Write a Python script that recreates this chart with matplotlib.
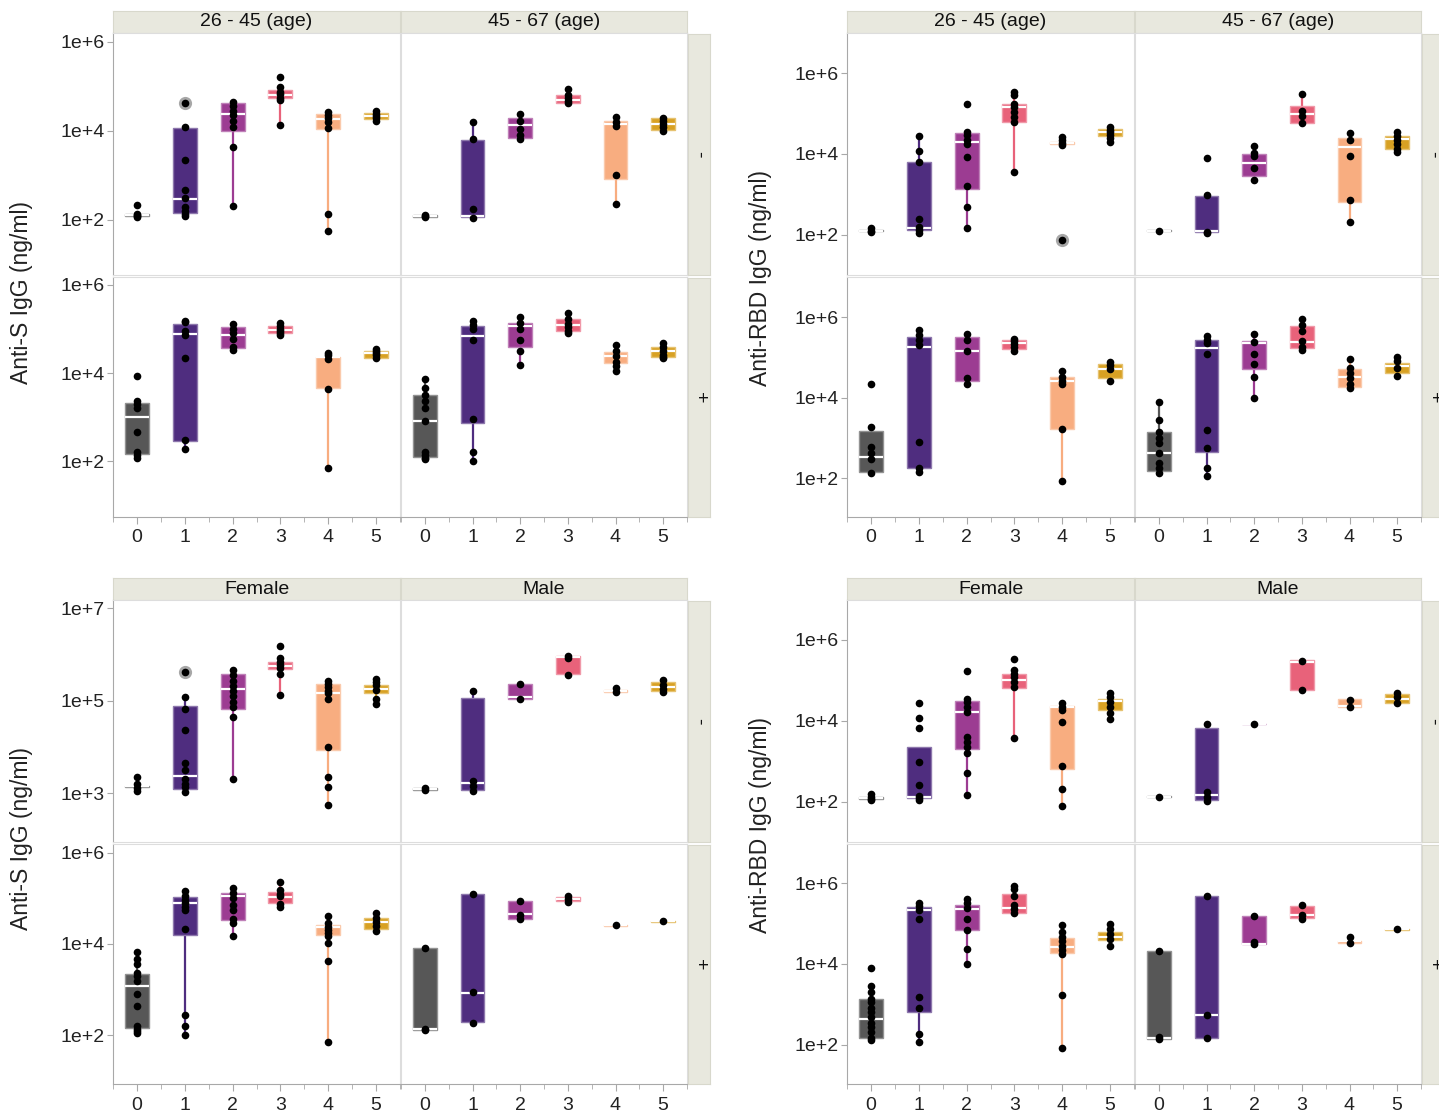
import numpy as np
import matplotlib
matplotlib.use("Agg")
import matplotlib.pyplot as plt

plt.rcParams['font.family'] = ['Liberation Sans', 'DejaVu Sans']

W, H = 1439, 1113
groups = [0, 1, 2, 3, 4, 5]
group_colors = ['#575757', '#4F2D7F', '#9C3C92', '#E8627A', '#F8AD80', '#D8A123']

# all values are log10(ng/ml); box = [low whisker, q1, median, q3, high whisker]

# ---- Anti-S by age ----
s_age_young_neg_pts = [[2.34, 2.13, 2.10, 2.06, 2.08],
                       [4.62, 4.08, 3.35, 2.66, 2.48, 2.28, 2.20, 2.13, 2.08],
                       [4.64, 4.55, 4.45, 4.35, 4.22, 4.09, 3.63, 2.31],
                       [5.20, 4.98, 4.88, 4.82, 4.75, 4.70, 4.13],
                       [4.43, 4.36, 4.30, 4.20, 4.07, 2.13, 1.74],
                       [4.44, 4.38, 4.33, 4.28, 4.23]]
s_age_young_neg_box = [[2.06, 2.08, 2.11, 2.14, 2.14], [2.08, 2.15, 2.46, 4.07, 4.08],
                       [2.31, 4.00, 4.39, 4.62, 4.64], [4.13, 4.73, 4.81, 4.92, 4.98],
                       [1.74, 4.05, 4.26, 4.38, 4.43], [4.23, 4.26, 4.33, 4.40, 4.44]]
s_age_young_neg_out = [(1, 4.62)]

s_age_old_neg_pts = [[2.10, 2.06, 2.08],
                     [4.21, 3.81, 2.24, 2.04],
                     [4.38, 4.22, 4.05, 3.90, 3.82],
                     [4.94, 4.80, 4.74, 4.68, 4.62],
                     [4.31, 4.20, 4.10, 3.01, 2.35],
                     [4.30, 4.22, 4.15, 4.08, 4.00]]
s_age_old_neg_box = [[2.06, 2.07, 2.08, 2.10, 2.10], [2.04, 2.06, 2.08, 3.80, 4.21],
                     [3.82, 3.84, 4.13, 4.28, 4.38], [4.60, 4.62, 4.70, 4.81, 4.94],
                     [2.35, 2.92, 4.15, 4.22, 4.31], [4.00, 4.02, 4.16, 4.28, 4.30]]
s_age_old_neg_out = []

s_age_young_pos_pts = [[3.93, 3.36, 3.30, 3.21, 2.65, 2.20, 2.13, 2.06],
                       [5.19, 5.15, 4.95, 4.87, 4.33, 2.47, 2.28],
                       [5.11, 5.00, 4.90, 4.78, 4.58, 4.52],
                       [5.14, 5.07, 5.00, 4.95, 4.90, 4.86],
                       [4.45, 4.40, 4.32, 3.64, 1.84],
                       [4.54, 4.50, 4.45, 4.40, 4.33]]
s_age_young_pos_box = [[2.06, 2.16, 3.00, 3.33, 3.36], [2.28, 2.45, 4.88, 5.12, 5.19],
                       [4.52, 4.56, 4.86, 5.04, 5.11], [4.86, 4.91, 4.98, 5.07, 5.14],
                       [1.84, 3.65, 4.37, 4.37, 4.45], [4.33, 4.35, 4.45, 4.50, 4.54]]
s_age_young_pos_out = []

s_age_old_pos_pts = [[3.86, 3.67, 3.50, 3.37, 3.21, 2.91, 2.21, 2.13, 2.08, 2.04],
                     [5.17, 5.10, 5.00, 4.76, 2.95, 2.21, 2.00],
                     [5.27, 5.13, 4.99, 4.74, 4.50, 4.19],
                     [5.37, 5.22, 5.12, 5.04, 4.96, 4.90],
                     [4.63, 4.50, 4.38, 4.26, 4.15, 4.04],
                     [4.68, 4.60, 4.50, 4.42, 4.37, 4.33]]
s_age_old_pos_box = [[2.04, 2.10, 2.91, 3.49, 3.86], [2.00, 2.86, 4.83, 5.06, 5.17],
                     [4.19, 4.59, 5.07, 5.13, 5.27], [4.90, 4.95, 5.08, 5.22, 5.37],
                     [4.04, 4.23, 4.38, 4.47, 4.63], [4.33, 4.37, 4.50, 4.60, 4.68]]
s_age_old_pos_out = []

# ---- Anti-RBD by age ----
rbd_age_young_neg_pts = [[2.17, 2.10, 2.07],
                         [4.44, 4.07, 3.80, 2.40, 2.20, 2.12, 2.05],
                         [5.23, 4.55, 4.47, 4.35, 4.25, 3.93, 3.21, 2.69, 2.17],
                         [5.54, 5.46, 5.25, 5.17, 5.04, 4.92, 4.80, 3.56],
                         [4.43, 4.35, 4.28, 4.22, 1.88],
                         [4.67, 4.60, 4.55, 4.48, 4.40, 4.30]]
rbd_age_young_neg_box = [[2.07, 2.08, 2.10, 2.12, 2.17], [2.05, 2.12, 2.16, 3.79, 4.44],
                         [2.17, 3.12, 4.29, 4.51, 4.55], [3.56, 4.80, 5.16, 5.23, 5.54],
                         [4.22, 4.24, 4.28, 4.30, 4.43], [4.30, 4.45, 4.55, 4.63, 4.67]]
rbd_age_young_neg_out = [(4, 1.88)]

rbd_age_old_neg_pts = [[2.10],
                       [3.91, 2.98, 2.07, 2.03],
                       [4.20, 4.03, 3.94, 3.66, 3.35],
                       [5.48, 5.06, 4.94, 4.76],
                       [4.51, 4.34, 3.95, 2.87, 2.31],
                       [4.55, 4.45, 4.35, 4.25, 4.12, 4.05]]
rbd_age_old_neg_box = [[2.10, 2.09, 2.10, 2.11, 2.10], [2.03, 2.06, 2.08, 2.95, 2.98],
                       [3.35, 3.45, 3.78, 4.00, 4.20], [4.76, 4.76, 4.98, 5.19, 5.48],
                       [2.31, 2.80, 4.18, 4.39, 4.51], [4.05, 4.13, 4.36, 4.45, 4.55]]
rbd_age_old_neg_out = []

rbd_age_young_pos_pts = [[4.33, 3.28, 2.78, 2.61, 2.47, 2.12],
                         [5.67, 5.55, 5.43, 5.31, 2.90, 2.26, 2.16],
                         [5.58, 5.44, 5.15, 4.50, 4.35],
                         [5.47, 5.40, 5.33, 5.25, 5.15],
                         [4.67, 4.51, 4.41, 4.33, 3.23, 1.92],
                         [4.89, 4.82, 4.71, 4.42]]
rbd_age_young_pos_box = [[2.12, 2.14, 2.53, 3.17, 3.28], [2.16, 2.26, 5.26, 5.50, 5.67],
                         [4.35, 4.42, 5.17, 5.50, 5.58], [5.15, 5.21, 5.36, 5.44, 5.47],
                         [1.92, 3.21, 4.41, 4.51, 4.67], [4.42, 4.49, 4.71, 4.84, 4.89]]
rbd_age_young_pos_out = []

rbd_age_old_pos_pts = [[3.89, 3.44, 3.15, 3.00, 2.86, 2.61, 2.37, 2.25, 2.12],
                       [5.52, 5.44, 5.36, 5.09, 3.19, 2.74, 2.25, 2.04],
                       [5.58, 5.39, 5.09, 4.84, 4.52, 3.98],
                       [5.95, 5.80, 5.65, 5.40, 5.25, 5.18],
                       [4.97, 4.73, 4.60, 4.48, 4.34, 4.23],
                       [5.01, 4.90, 4.73, 4.53]]
rbd_age_old_pos_box = [[2.12, 2.18, 2.61, 3.15, 3.89], [2.04, 2.65, 5.23, 5.44, 5.52],
                       [3.98, 4.70, 5.35, 5.42, 5.58], [5.18, 5.23, 5.38, 5.79, 5.95],
                       [4.23, 4.27, 4.51, 4.70, 4.97], [4.53, 4.61, 4.78, 4.85, 5.01]]
rbd_age_old_pos_out = []

# ---- Anti-S by sex ----
s_sex_f_neg_pts = [[3.35, 3.20, 3.12, 3.06],
                   [5.63, 5.08, 4.82, 4.36, 3.66, 3.50, 3.32, 3.20, 3.13, 3.04],
                   [5.66, 5.55, 5.44, 5.33, 5.22, 5.11, 4.97, 4.86, 4.65, 3.31],
                   [6.19, 5.92, 5.85, 5.78, 5.70, 5.59, 5.12],
                   [5.44, 5.37, 5.30, 5.22, 5.16, 5.05, 4.01, 3.35, 3.14, 2.75],
                   [5.48, 5.40, 5.34, 5.23, 5.05, 4.94]]
s_sex_f_neg_box = [[3.06, 3.13, 3.15, 3.17, 3.17], [3.04, 3.09, 3.38, 4.89, 5.08],
                   [3.31, 4.82, 5.26, 5.59, 5.66], [5.12, 5.68, 5.76, 5.83, 5.92],
                   [2.75, 3.93, 5.16, 5.37, 5.44], [4.94, 5.16, 5.26, 5.34, 5.48]]
s_sex_f_neg_out = [(1, 5.63)]

s_sex_m_neg_pts = [[3.12, 3.08],
                   [5.21, 3.26, 3.17, 3.06],
                   [5.37, 5.05],
                   [5.98, 5.92, 5.55],
                   [5.27, 5.20],
                   [5.45, 5.35, 5.25, 5.20]]
s_sex_m_neg_box = [[3.07, 3.07, 3.10, 3.12, 3.12], [3.06, 3.07, 3.22, 5.07, 5.21],
                   [5.03, 5.03, 5.08, 5.37, 5.37], [5.55, 5.57, 5.94, 5.98, 5.98],
                   [5.20, 5.19, 5.22, 5.23, 5.27], [5.20, 5.21, 5.30, 5.41, 5.45]]
s_sex_m_neg_out = []

s_sex_f_pos_pts = [[3.83, 3.68, 3.55, 3.37, 3.30, 3.19, 2.91, 2.64, 2.20, 2.14, 2.09, 2.04],
                   [5.16, 5.05, 4.97, 4.90, 4.80, 4.74, 4.32, 2.45, 2.20, 2.00],
                   [5.23, 5.11, 5.01, 4.86, 4.74, 4.54, 4.46, 4.17],
                   [5.36, 5.19, 5.10, 5.04, 4.88, 4.81],
                   [4.61, 4.46, 4.38, 4.31, 4.24, 4.17, 4.03, 3.62, 1.84],
                   [4.67, 4.57, 4.48, 4.40, 4.28]]
s_sex_f_pos_box = [[2.04, 2.15, 3.07, 3.35, 3.83], [2.00, 4.19, 4.89, 5.03, 5.16],
                   [4.17, 4.52, 5.05, 5.11, 5.23], [4.81, 4.89, 5.03, 5.14, 5.36],
                   [1.84, 4.19, 4.37, 4.41, 4.61], [4.28, 4.33, 4.48, 4.56, 4.67]]
s_sex_f_pos_out = []

s_sex_m_pos_pts = [[3.90, 2.14, 2.11],
                   [5.10, 2.94, 2.27],
                   [4.93, 4.64, 4.55],
                   [5.04, 4.98, 4.92],
                   [4.41],
                   [4.50]]
s_sex_m_pos_box = [[2.11, 2.12, 2.13, 3.90, 3.90], [2.27, 2.28, 2.93, 5.09, 5.10],
                   [4.55, 4.55, 4.65, 4.93, 4.93], [4.92, 4.93, 4.98, 5.02, 5.04],
                   [4.41, 4.40, 4.41, 4.42, 4.41], [4.50, 4.49, 4.50, 4.51, 4.50]]
s_sex_m_pos_out = []

# ---- Anti-RBD by sex ----
rbd_sex_f_neg_pts = [[2.19, 2.12, 2.07, 2.04],
                     [4.45, 4.08, 3.82, 2.98, 2.40, 2.15, 2.09, 2.03],
                     [5.23, 4.55, 4.47, 4.35, 4.22, 3.60, 3.48, 3.35, 3.20, 2.70, 2.17],
                     [5.54, 5.25, 5.17, 5.08, 4.96, 4.84, 3.57],
                     [4.43, 4.35, 4.27, 3.96, 2.88, 2.31, 1.88],
                     [4.69, 4.59, 4.47, 4.35, 4.20, 4.05]]
rbd_sex_f_neg_box = [[2.04, 2.07, 2.09, 2.11, 2.19], [2.03, 2.10, 2.12, 3.35, 3.35],
                     [2.17, 3.29, 4.22, 4.48, 4.55], [3.57, 4.82, 5.00, 5.17, 5.25],
                     [1.88, 2.80, 4.33, 4.36, 4.43], [4.05, 4.26, 4.48, 4.55, 4.69]]
rbd_sex_f_neg_out = []

rbd_sex_m_neg_pts = [[2.12],
                     [3.91, 2.23, 2.12, 2.02],
                     [3.92],
                     [5.48, 4.76],
                     [4.51, 4.34],
                     [4.69, 4.58, 4.43]]
rbd_sex_m_neg_box = [[2.12, 2.11, 2.12, 2.13, 2.12], [2.02, 2.04, 2.17, 3.81, 3.91],
                     [3.92, 3.91, 3.92, 3.93, 3.92], [4.76, 4.76, 5.46, 5.50, 5.50],
                     [4.34, 4.33, 4.36, 4.53, 4.53], [4.43, 4.43, 4.55, 4.67, 4.69]]
rbd_sex_m_neg_out = []

rbd_sex_f_pos_pts = [[3.90, 3.46, 3.30, 3.13, 3.05, 2.92, 2.80, 2.68, 2.55, 2.43, 2.31, 2.18, 2.12],
                     [5.52, 5.44, 5.34, 5.11, 3.19, 2.91, 2.26, 2.06],
                     [5.60, 5.52, 5.39, 5.11, 4.85, 4.37, 4.00],
                     [5.93, 5.85, 5.68, 5.47, 5.35, 5.27],
                     [4.96, 4.80, 4.68, 4.56, 4.45, 4.35, 4.25, 3.23, 1.93],
                     [4.99, 4.86, 4.74, 4.62, 4.45]]
rbd_sex_f_pos_box = [[2.12, 2.18, 2.63, 3.13, 3.46], [2.06, 2.80, 5.34, 5.40, 5.52],
                     [4.00, 4.85, 5.37, 5.46, 5.60], [5.27, 5.27, 5.39, 5.73, 5.93],
                     [1.93, 4.28, 4.41, 4.64, 4.96], [4.45, 4.59, 4.67, 4.80, 4.99]]
rbd_sex_f_pos_out = []

rbd_sex_m_pos_pts = [[4.33, 2.20, 2.14],
                     [5.69, 2.74, 2.18],
                     [5.18, 4.55, 4.49],
                     [5.45, 5.21, 5.12],
                     [4.67, 4.53],
                     [4.86]]
rbd_sex_m_pos_box = [[2.14, 2.15, 2.16, 4.31, 4.33], [2.18, 2.18, 2.74, 5.69, 5.69],
                     [4.49, 4.49, 4.50, 5.18, 5.18], [5.12, 5.13, 5.21, 5.44, 5.45],
                     [4.53, 4.53, 4.56, 4.57, 4.67], [4.86, 4.85, 4.86, 4.87, 4.86]]
rbd_sex_m_pos_out = []

age_labels = ['26 - 45 (age)', '45 - 67 (age)']
sex_labels = ['Female', 'Male']
row_labels = ['-', '+']

fig = plt.figure(figsize=(W / 100, H / 100), dpi=100)


def px_axes(x0, y0, x1, y1):
    return fig.add_axes([x0 / W, 1 - y1 / H, (x1 - x0) / W, (y1 - y0) / H])


def lighten(c, amt=0.35):
    rgb = np.array(matplotlib.colors.to_rgb(c))
    return tuple(rgb + (1 - rgb) * amt)


def draw_facet(ax, pts, box, out, ylim, yticks, first_col, last_row):
    ax.set_yscale('log')
    for g in groups:
        lo, q1, med, q3, hi = box[g]
        c = group_colors[g]
        ax.vlines(g, 10 ** lo, 10 ** q1, color=c, lw=1.6, zorder=2)
        ax.vlines(g, 10 ** q3, 10 ** hi, color=c, lw=1.6, zorder=2)
        ax.bar(g, 10 ** q3 - 10 ** q1, bottom=10 ** q1, width=0.5, color=c,
               edgecolor=lighten(c), lw=1.0, zorder=3)
        ax.hlines(10 ** med, g - 0.25, g + 0.25, color='white', lw=1.6, zorder=4)
    for g, v in out:
        ax.plot(g, 10 ** v, 'o', color='#8A8A8A', ms=9.5, alpha=0.75, mec='none', zorder=5)
    for g in groups:
        ax.plot([g] * len(pts[g]), 10 ** np.array(pts[g]), 'o', color='black',
                ms=5.5, mec='none', zorder=6)
    ax.set_xlim(-0.5, 5.5)
    ax.set_ylim(10 ** ylim[0], 10 ** ylim[1])
    ax.minorticks_off()
    for s in ax.spines.values():
        s.set_color('#DDDDDD')
        s.set_linewidth(0.8)
    if first_col:
        ax.spines['left'].set_color('#A8A8A8')
        ax.set_yticks([10 ** t for t in yticks])
        ax.set_yticklabels(['1e+%d' % t for t in yticks])
        ax.tick_params(axis='y', length=4, color='#A8A8A8', labelsize=14,
                       labelcolor='#222222', pad=2)
    else:
        ax.set_yticks([])
    if last_row:
        ax.spines['bottom'].set_color('#A8A8A8')
        ax.set_xticks(groups)
        ax.set_xticks([-0.5, 0.5, 1.5, 2.5, 3.5, 4.5, 5.5], minor=True)
        ax.tick_params(axis='x', which='major', length=5, color='#A8A8A8',
                       labelsize=14, labelcolor='#222222', pad=4)
        ax.tick_params(axis='x', which='minor', length=3.5, color='#A8A8A8')
    else:
        ax.set_xticks([])


def strip(x0, y0, x1, y1, text, rot=0):
    ax = px_axes(x0, y0, x1, y1)
    ax.set_facecolor('#E8E8DE')
    for s in ax.spines.values():
        s.set_color('#D8D8CC')
    ax.set_xticks([])
    ax.set_yticks([])
    ax.text(0.5, 0.5, text, ha='center', va='center', fontsize=14,
            color='#111111', rotation=rot, transform=ax.transAxes)


def draw_panel(left, top, col_labels, facets, ylims, yticks, ylabel, lab_xy):
    cols = [(left, left + 287), (left + 288, left + 574)]
    rows = [(top, top + 242), (top + 244, top + 484)]
    for ci, (cx0, cx1) in enumerate(cols):
        strip(cx0, top - 22, cx1, top, col_labels[ci])
    for ri, (ry0, ry1) in enumerate(rows):
        strip(left + 575, ry0 + 1, left + 597, ry1, row_labels[ri], rot=270)
        for ci, (cx0, cx1) in enumerate(cols):
            pts, box, out = facets[ri][ci]
            ax = px_axes(cx0, ry0, cx1, ry1)
            draw_facet(ax, pts, box, out, ylims[ri], yticks[ri], ci == 0, ri == 1)
    fig.text(lab_xy[0] / W, 1 - lab_xy[1] / H, ylabel, rotation=90, ha='center',
             va='center', fontsize=16.5, color='#222222')


draw_panel(113, 33, age_labels,
           [[(s_age_young_neg_pts, s_age_young_neg_box, s_age_young_neg_out),
             (s_age_old_neg_pts, s_age_old_neg_box, s_age_old_neg_out)],
            [(s_age_young_pos_pts, s_age_young_pos_box, s_age_young_pos_out),
             (s_age_old_pos_pts, s_age_old_pos_box, s_age_old_pos_out)]],
           [(0.76, 6.2), (0.73, 6.18)], [[2, 4, 6], [2, 4, 6]],
           'Anti-S IgG (ng/ml)', (22, 292))

draw_panel(847, 33, age_labels,
           [[(rbd_age_young_neg_pts, rbd_age_young_neg_box, rbd_age_young_neg_out),
             (rbd_age_old_neg_pts, rbd_age_old_neg_box, rbd_age_old_neg_out)],
            [(rbd_age_young_pos_pts, rbd_age_young_pos_box, rbd_age_young_pos_out),
             (rbd_age_old_pos_pts, rbd_age_old_pos_box, rbd_age_old_pos_out)]],
           [(1.0, 7.0), (1.03, 7.0)], [[2, 4, 6], [2, 4, 6]],
           'Anti-RBD IgG (ng/ml)', (760, 278))

draw_panel(113, 600, sex_labels,
           [[(s_sex_f_neg_pts, s_sex_f_neg_box, s_sex_f_neg_out),
             (s_sex_m_neg_pts, s_sex_m_neg_box, s_sex_m_neg_out)],
            [(s_sex_f_pos_pts, s_sex_f_pos_box, s_sex_f_pos_out),
             (s_sex_m_pos_pts, s_sex_m_pos_box, s_sex_m_pos_out)]],
           [(1.95, 7.18), (0.93, 6.19)], [[3, 5, 7], [2, 4, 6]],
           'Anti-S IgG (ng/ml)', (22, 839))

draw_panel(847, 600, sex_labels,
           [[(rbd_sex_f_neg_pts, rbd_sex_f_neg_box, rbd_sex_f_neg_out),
             (rbd_sex_m_neg_pts, rbd_sex_m_neg_box, rbd_sex_m_neg_out)],
            [(rbd_sex_f_pos_pts, rbd_sex_f_pos_box, rbd_sex_f_pos_out),
             (rbd_sex_m_pos_pts, rbd_sex_m_pos_box, rbd_sex_m_pos_out)]],
           [(1.0, 6.99), (1.03, 6.97)], [[2, 4, 6], [2, 4, 6]],
           'Anti-RBD IgG (ng/ml)', (760, 825))

fig.savefig('out.png', dpi=100)
